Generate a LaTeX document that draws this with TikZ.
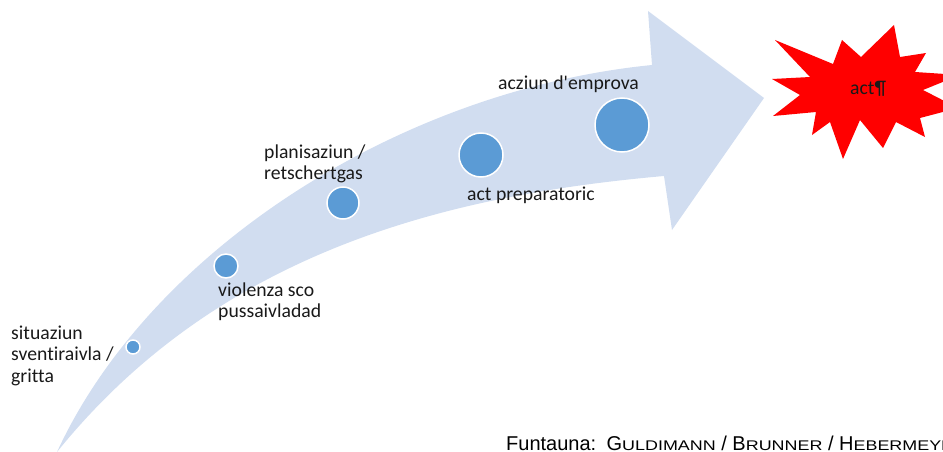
\documentclass[tikz,border=0pt]{standalone}
\usepackage{fontspec}
\setmainfont[Ligatures={NoCommon}]{Carlito}
\newfontfamily\srcfont{Liberation Sans}
\usepackage{graphicx}
\usepackage{tikz}
\usetikzlibrary{calc}

\definecolor{arrowblue}{RGB}{209,221,240}
\definecolor{dotblue}{RGB}{91,155,213}
\newcommand{\smcap}[1]{{\fontsize{14}{16}\selectfont\scalebox{1.28}[1]{#1}}}

\begin{document}
\begin{tikzpicture}
[x=1pt,y=-1pt,
  dotdecorate/.style={shape=circle,inner sep=0pt,fill=dotblue,draw=white,line width=1.5pt},%
  labeldecorate/.style={font=\fontsize{19.7}{21.5}\selectfont,align=left,inner sep=0pt,anchor=base west,text=black!90}]
\useasboundingbox (0,0) rectangle (943,452);
%% curved arrow
\fill[arrowblue] (57,452) .. controls (150,250) and (400,90) .. (652,65)
  -- (648,11) -- (764,98) -- (672,230) -- (664,176)
  .. controls (450,195) and (220,250) .. (57,452) -- cycle;
%% star
\fill[red] (775,40)
  \foreach \x/\y in {833/64, 842/40, 861/57, 894/25, 900/57, 926/53, 915/72,
    960/75, 923/90, 958/108, 920/118, 925/137, 896/122, 883/148, 860/120,
    843/159, 830/122, 812/135, 816/112, 773/116, 800/95, 772/79, 810/77}
  { -- (\x,\y) } -- cycle;
%% dots on the arrow
\foreach \nodename/\x/\y/\r in {d1/133/347/7, d2/226/266/12, d3/343/203/16,
  d4/481/155/22, d5/622/125/27}
{
  \node (\nodename) at (\x,\y) [dotdecorate,minimum size=2*\r pt] {};
}
%% labels (base = last line)
\node (l1) at (11,382) [labeldecorate] {situaziun\\sventiraivla /\\gritta};
\node (l2) at (218,317.5) [labeldecorate] {violenza sco\\pussaivladad};
\node (l3) at (264,179.5) [labeldecorate] {planisaziun /\\retschertgas};
\node (l4) at (467,200) [labeldecorate] {act preparatoric};
\node (l5) at (498,89) [labeldecorate] {acziun d\textquotesingle emprova};
\node (l6) at (850,95) [labeldecorate] {act¶};
%% source
\node (src) at (506,450.5) [anchor=base west,inner sep=0pt,
  font=\srcfont\fontsize{20}{22}\selectfont]
  {Funtauna:\hspace{3pt} G\smcap{ULDIMANN} / B\smcap{RUNNER} / H\smcap{EBERMEYER}};
\end{tikzpicture}
\end{document}
